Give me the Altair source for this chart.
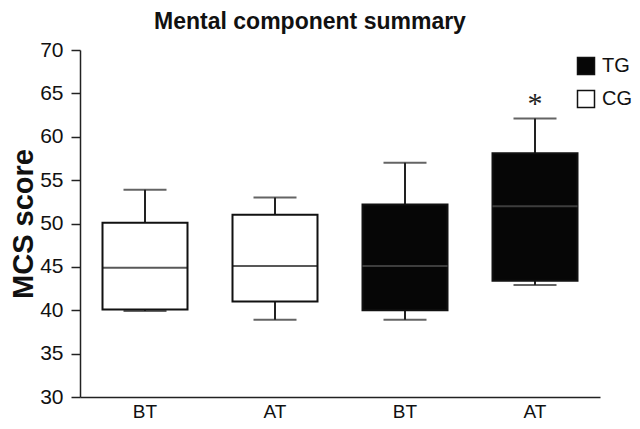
import altair as alt
import pandas as pd

# ---- data ----
groups = ["CG", "CG", "TG", "TG"]
times = ["BT", "AT", "BT", "AT"]
keys = ["CG_BT", "CG_AT", "TG_BT", "TG_AT"]
whisker_low = [39.9, 38.9, 38.9, 42.9]
q1 = [40.1, 41.0, 40.0, 43.4]
median = [44.9, 45.1, 45.1, 52.0]
q3 = [50.1, 51.0, 52.2, 58.1]
whisker_high = [53.9, 53.0, 57.0, 62.1]
sig_text = ["", "", "", "*"]
sig_y = [None, None, None, 64.4]
y_ticks = [30, 35, 40, 45, 50, 55, 60, 65, 70]

df = pd.DataFrame({
    "key": keys, "group": groups, "time": times,
    "low": whisker_low, "q1": q1, "median": median, "q3": q3, "high": whisker_high,
    "sig": sig_text, "sig_y": sig_y,
})

FONT = "Liberation Sans"

x_enc = alt.X(
    "key:N", sort=keys,
    scale=alt.Scale(paddingInner=0, paddingOuter=0),
    axis=alt.Axis(
        title=None, ticks=False, labelAngle=0, labelFontSize=19, labelPadding=5,
        labelColor="#111", domainColor="#222", domainWidth=1.5,
        labelExpr="split(datum.label, '_')[1]",
    ),
)
y_scale = alt.Scale(domain=[30, 70], nice=False, zero=False)
y_axis = alt.Axis(
    title="MCS score", values=y_ticks, grid=False, tickSize=9, labelPadding=8,
    labelFontSize=21, labelColor="#111", tickColor="#222", tickWidth=1.5,
    domainColor="#222", domainWidth=1.5, titleFontSize=29, titleFontWeight="bold",
    titleColor="#111", titlePadding=1,
)

base = alt.Chart(df)

whisker = base.mark_rule(color="#222", strokeWidth=2).encode(
    x=x_enc, y=alt.Y("low:Q", scale=y_scale, axis=y_axis), y2="high:Q"
)
cap_low = base.mark_tick(color="#222", size=43, thickness=2).encode(
    x=x_enc, y=alt.Y("low:Q", scale=y_scale)
)
cap_high = base.mark_tick(color="#222", size=43, thickness=2).encode(
    x=x_enc, y=alt.Y("high:Q", scale=y_scale)
)
box = base.mark_bar(size=85, stroke="#111", strokeWidth=2).encode(
    x=x_enc,
    y=alt.Y("q1:Q", scale=y_scale),
    y2="q3:Q",
    fill=alt.Fill(
        "group:N",
        scale=alt.Scale(domain=["TG", "CG"], range=["#060606", "#ffffff"]),
        legend=alt.Legend(
            title=None, orient="none", legendX=496, legendY=6, padding=0,
            symbolType="square", symbolSize=289, symbolStrokeColor="#111",
            symbolStrokeWidth=1.5, labelFontSize=20, labelOffset=6, rowPadding=9,
            labelColor="#111",
        ),
    ),
)
med = base.mark_tick(size=85, thickness=2).encode(
    x=x_enc,
    y=alt.Y("median:Q", scale=y_scale),
    color=alt.condition(alt.datum.group == "TG", alt.value("#555555"), alt.value("#111111")),
)
star = base.transform_filter(alt.datum.sig != "").mark_text(
    font="Liberation Serif", fontSize=30, color="#222", baseline="middle", dy=5
).encode(
    x=x_enc, y=alt.Y("sig_y:Q", scale=y_scale), text="sig:N"
)

chart = alt.layer(whisker, cap_low, cap_high, box, med, star).properties(
    width=520, height=347,
    title=alt.TitleParams(
        "Mental component summary", fontSize=23, fontWeight="bold", font=FONT,
        color="#111", anchor="middle", baseline="bottom", offset=4, dx=-30, dy=22,
    ),
    padding={"left": 72, "top": 42, "right": 32, "bottom": 24},
    autosize=alt.AutoSizeParams(type="none"),
).configure(font=FONT).configure_view(stroke=None)

chart.save("out.html", embed_options={"renderer": "svg", "actions": False})
